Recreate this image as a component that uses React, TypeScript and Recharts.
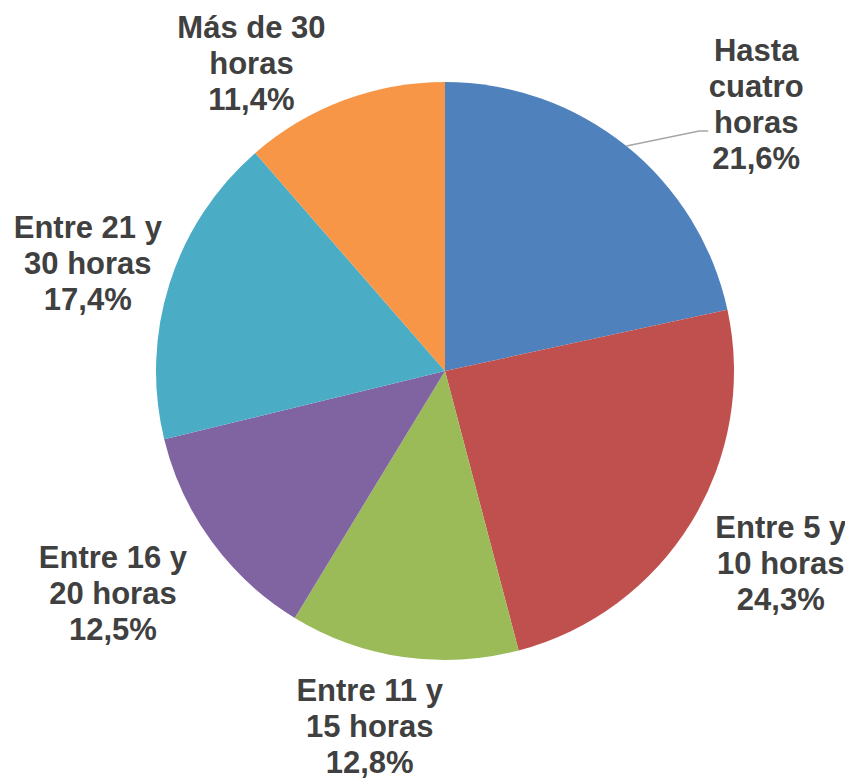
import { PieChart, Pie, Cell } from "recharts";

const categories = [
  "Hasta\ncuatro\nhoras",
  "Entre 5 y\n10 horas",
  "Entre 11 y\n15 horas",
  "Entre 16 y\n20 horas",
  "Entre 21 y\n30 horas",
  "Más de 30\nhoras",
];
const shares = [21.6, 24.3, 12.8, 12.5, 17.4, 11.4];
const colors = ["#4F81BD", "#C0504D", "#9BBB59", "#8064A2", "#4BACC6", "#F79646"];

// label placement: distance of the text block centre from the pie centre, and angle shift (deg)
const labelPlacement = [
  { dist: 410, shift: -10.5 },
  { dist: 387, shift: 1.7 },
  { dist: 363, shift: -3.7 },
  { dist: 400, shift: -2.3 },
  { dist: 373, shift: 0.9 },
  { dist: 363, shift: 11.7 },
];

const data = categories.map((name, i) => ({ name, value: shares[i] }));

const RAD = Math.PI / 180;
const LINE_H = 36;

function SliceLabel(props: any) {
  const { cx, cy, midAngle, outerRadius, index } = props;
  const place = labelPlacement[index];
  const a = (midAngle + place.shift) * RAD;
  const bx = cx + place.dist * Math.cos(a);
  const by = cy - place.dist * Math.sin(a);
  const lines = [
    ...categories[index].split("\n"),
    shares[index].toFixed(1).replace(".", ",") + "%",
  ];
  const n = lines.length;
  let leader = null;
  if (index === 0) {
    const sx = cx + outerRadius * Math.cos(midAngle * RAD);
    const sy = cy - outerRadius * Math.sin(midAngle * RAD);
    const ey = by + 27;
    leader = (
      <polyline
        points={`${sx},${sy} ${bx - 57},${ey} ${bx - 48},${ey}`}
        fill="none"
        stroke="#A6A6A6"
        strokeWidth={1.5}
      />
    );
  }
  return (
    <g>
      {leader}
      {lines.map((l, i) => (
        <text
          key={i}
          x={bx}
          y={by + (i - (n - 1) / 2) * LINE_H}
          textAnchor="middle"
          dominantBaseline="central"
          fill="#404040"
          fontFamily="'Liberation Sans', Arial, sans-serif"
          fontWeight="bold"
          fontSize={31}
        >
          {l}
        </text>
      ))}
    </g>
  );
}

export default function App() {
  return (
    <>
      <style>{`html, body { overflow: hidden; } .recharts-surface { overflow: visible; }`}</style>
      <PieChart width={845} height={773} margin={{ top: 0, right: 0, bottom: 0, left: 0 }}>
        <Pie
          data={data}
          dataKey="value"
          nameKey="name"
          cx={437}
          cy={363}
          outerRadius={289}
          startAngle={90}
          endAngle={-270}
          stroke="none"
          label={SliceLabel}
          labelLine={false}
          isAnimationActive={false}
        >
          {data.map((d, i) => (
            <Cell key={d.name} fill={colors[i]} />
          ))}
        </Pie>
      </PieChart>
    </>
  );
}
